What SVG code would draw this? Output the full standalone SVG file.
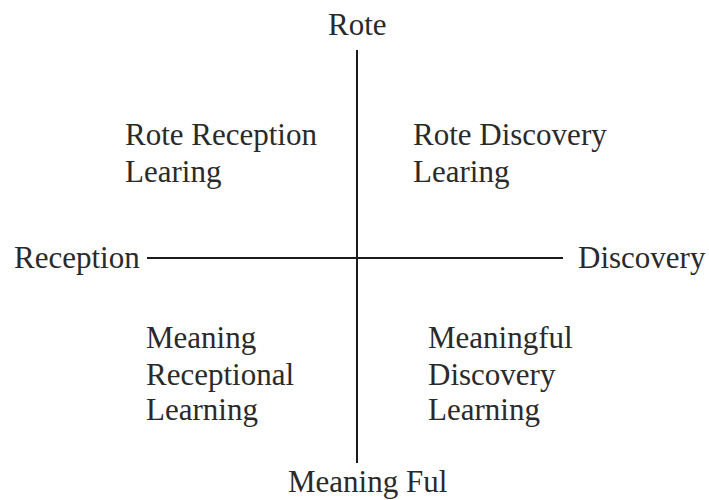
<svg xmlns="http://www.w3.org/2000/svg" width="709" height="500" viewBox="0 0 709 500">
  <style>
    text { font-family: "Liberation Serif", "Times New Roman", serif; font-size: 31px; fill: #2a2a2a; }
    .axis { stroke: #1a1a1a; stroke-width: 2; fill: none; }
  </style>
  <rect width="709" height="500" fill="#ffffff"/>
  <g id="connectors">
    <line class="axis" x1="357" y1="50" x2="357" y2="463"/>
    <line class="axis" x1="147" y1="258" x2="563" y2="258"/>
  </g>
  <g id="rote"><text x="328" y="35">Rote</text></g>
  <g id="reception"><text x="14" y="268">Reception</text></g>
  <g id="discovery"><text x="578" y="268">Discovery</text></g>
  <g id="meaningful"><text x="288" y="492">Meaning Ful</text></g>
  <g id="rote-reception">
    <text x="125" y="145">Rote Reception</text>
    <text x="125" y="182">Learing</text>
  </g>
  <g id="rote-discovery">
    <text x="413" y="145">Rote Discovery</text>
    <text x="413" y="182">Learing</text>
  </g>
  <g id="meaning-receptional">
    <text x="146" y="348">Meaning</text>
    <text x="146" y="385">Receptional</text>
    <text x="146" y="420">Learning</text>
  </g>
  <g id="meaningful-discovery">
    <text x="428" y="348">Meaningful</text>
    <text x="428" y="385">Discovery</text>
    <text x="428" y="420">Learning</text>
  </g>
</svg>
